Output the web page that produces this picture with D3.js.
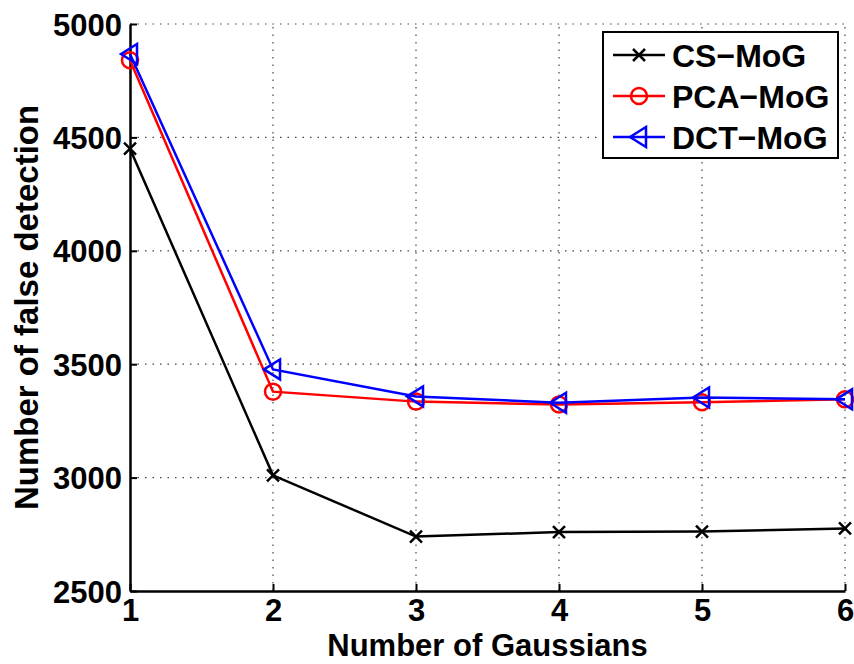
<!DOCTYPE html>
<html><head><meta charset="utf-8">
<script src="https://cdn.jsdelivr.net/npm/d3@7"></script>
<style>body{margin:0;background:#fff;}svg{display:block;font-family:"Liberation Sans",Arial,Helvetica,sans-serif;font-weight:bold;}</style>
</head><body>
<svg id="c" width="854" height="664"></svg>
<script>
const gaussians = [1, 2, 3, 4, 5, 6];
const csMoG  = [4450, 3010, 2740, 2760, 2762, 2776];
const pcaMoG = [4840, 3379, 3335, 3322, 3332, 3345];
const dctMoG = [4868, 3477, 3358, 3330, 3353, 3345];
const seriesNames = ["CS\u2212MoG", "PCA\u2212MoG", "DCT\u2212MoG"];
const seriesColors = ["#000000", "#ff0000", "#0000ff"];
const seriesMarkers = ["x", "o", "<"];
const xTicks = [1, 2, 3, 4, 5, 6];
const yTicks = [2500, 3000, 3500, 4000, 4500, 5000];
const xLabel = "Number of Gaussians";
const yLabel = "Number of false detection";

const svg = d3.select("#c");
const L = 130, R = 845, T = 24, B = 591;
const x = d3.scaleLinear().domain([1, 6]).range([L, R]);
const y = d3.scaleLinear().domain([2500, 5000]).range([B, T]);

// grid
const grid = svg.append("g").attr("stroke", "#444").attr("stroke-width", 1.2).attr("stroke-dasharray", "1.5,6");
xTicks.slice(1).forEach(v => grid.append("line").attr("x1", x(v)).attr("x2", x(v)).attr("y1", B).attr("y2", T));
yTicks.slice(1).forEach(v => grid.append("line").attr("x1", L).attr("x2", R).attr("y1", y(v)).attr("y2", y(v)));

// axes
const xAxis = d3.axisBottom(x).tickValues(xTicks).tickFormat(d3.format("d")).tickSizeInner(-7).tickSizeOuter(0).tickPadding(8);
const yAxis = d3.axisLeft(y).tickValues(yTicks).tickFormat(d3.format("d")).tickSizeInner(-7).tickSizeOuter(0).tickPadding(8);
const gx = svg.append("g").attr("transform", `translate(0,${B})`).call(xAxis);
const gy = svg.append("g").attr("transform", `translate(${L},0)`).call(yAxis);
[gx, gy].forEach(g => {
  g.select(".domain").attr("stroke", "#000").attr("stroke-width", 2.5);
  g.selectAll(".tick line").attr("stroke", "#000").attr("stroke-width", 2);
  g.selectAll(".tick text").attr("fill", "#000").attr("font-size", 31).attr("font-weight", "bold").attr("font-family", "Liberation Sans, Arial, sans-serif");
});
gx.selectAll(".tick text").attr("dy", "0.71em");
gy.selectAll(".tick text").attr("dy", "0.36em");

svg.append("text").attr("x", (L + R) / 2).attr("y", 656).attr("text-anchor", "middle")
  .attr("font-size", 31).attr("fill", "#000").text(xLabel);
svg.append("text").attr("transform", `translate(38,${(T + B) / 2}) rotate(-90)`).attr("text-anchor", "middle")
  .attr("font-size", 33).attr("fill", "#000").text(yLabel);

function drawMarker(g, type, cx, cy, color) {
  if (type === "x") {
    g.append("path").attr("d", `M${cx-6},${cy-6}L${cx+6},${cy+6}M${cx-6},${cy+6}L${cx+6},${cy-6}`)
      .attr("stroke", color).attr("stroke-width", 2.5).attr("fill", "none");
  } else if (type === "o") {
    g.append("circle").attr("cx", cx).attr("cy", cy).attr("r", 8)
      .attr("stroke", color).attr("stroke-width", 2.5).attr("fill", "none");
  } else {
    g.append("path").attr("d", `M${cx-9},${cy}L${cx+7},${cy-10}L${cx+7},${cy+10}Z`)
      .attr("stroke", color).attr("stroke-width", 2.5).attr("fill", "none").attr("stroke-linejoin", "miter");
  }
}

const allSeries = [csMoG, pcaMoG, dctMoG];
const line = d3.line().x((d, i) => x(gaussians[i])).y(d => y(d));
allSeries.forEach((s, k) => {
  const g = svg.append("g");
  g.append("path").datum(s).attr("d", line).attr("fill", "none")
    .attr("stroke", seriesColors[k]).attr("stroke-width", 2.5);
  s.forEach((v, i) => drawMarker(g, seriesMarkers[k], x(gaussians[i]), y(v), seriesColors[k]));
});

// legend
const lg = svg.append("g");
lg.append("rect").attr("x", 603).attr("y", 32).attr("width", 235).attr("height", 126)
  .attr("fill", "#fff").attr("stroke", "#000").attr("stroke-width", 2);
seriesNames.forEach((n, k) => {
  const yy = 55 + k * 41;
  lg.append("line").attr("x1", 613).attr("x2", 665).attr("y1", yy).attr("y2", yy)
    .attr("stroke", seriesColors[k]).attr("stroke-width", 2.5);
  drawMarker(lg, seriesMarkers[k], 639, yy, seriesColors[k]);
  lg.append("text").attr("x", 672).attr("y", yy).attr("dy", "0.36em").attr("font-size", 32)
    .attr("fill", "#000").text(n);
});
</script>
</body></html>
